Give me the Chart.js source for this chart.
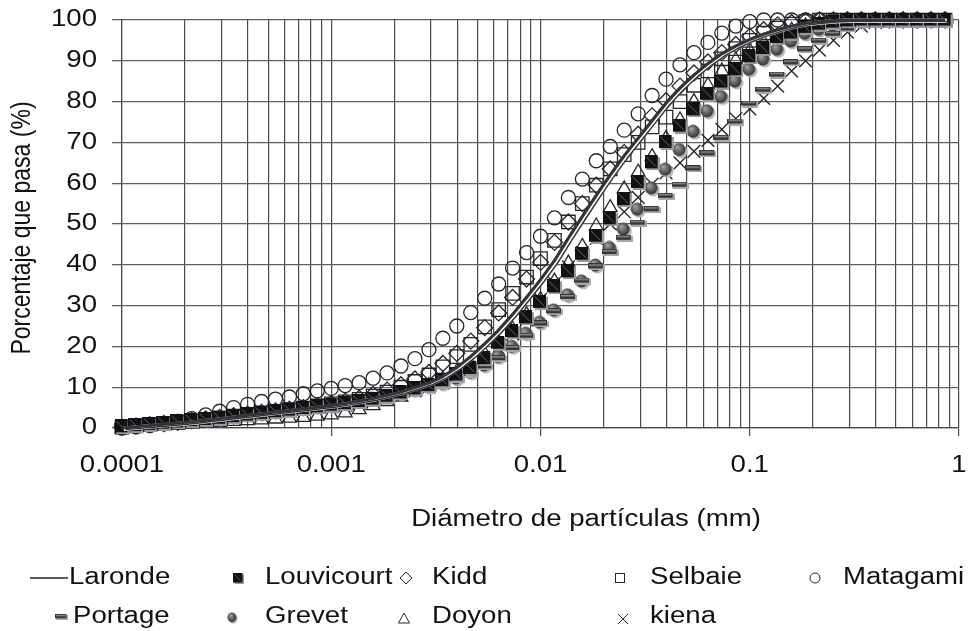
<!DOCTYPE html>
<html>
<head>
<meta charset="utf-8">
<script src="https://cdn.jsdelivr.net/npm/chart.js@4.4.0/dist/chart.umd.min.js"></script>
<style>
body { margin: 0; background: #fff; }
canvas { display: block; }
</style>
</head>
<body>
<canvas id="psdChart" width="970" height="631"></canvas>
<script>
// particle diameter (mm), same bins for every tailings sample
const sizes = [
  0.0001, 0.0001166, 0.0001359, 0.0001585, 0.0001848, 0.0002154, 0.0002512, 0.0002929, 0.0003415, 0.0003981, 0.0004642, 0.0005412, 0.000631, 0.0007356, 0.0008577,
  0.001, 0.001166, 0.001359, 0.001585, 0.001848, 0.002154, 0.002512, 0.002929, 0.003415, 0.003981, 0.004642, 0.005412, 0.00631, 0.007356, 0.008577,
  0.01, 0.01166, 0.01359, 0.01585, 0.01848, 0.02154, 0.02512, 0.02929, 0.03415, 0.03981, 0.04642, 0.05412, 0.0631, 0.07356, 0.08577,
  0.1, 0.1166, 0.1359, 0.1585, 0.1848, 0.2154, 0.2512, 0.2929, 0.3415, 0.3981, 0.4642, 0.5412, 0.631, 0.7356, 0.8577
];

// percent passing for each sample
const laronde = [
  0, 0.3, 0.6, 0.9, 1.2, 1.5, 1.9, 2.3, 2.7, 3.1, 3.5, 3.9, 4.3, 4.7, 5.1,
  5.5, 6.0, 6.6, 7.2, 8.0, 8.8, 9.9, 11.0, 12.6, 14.8, 17.5, 20.6, 24.0, 27.8, 32.0,
  36.3, 41.0, 46.5, 51.8, 57.0, 62.0, 66.7, 71.0, 75.3, 79.6, 83.3, 86.5, 89.3, 91.7, 93.6,
  95.2, 96.5, 97.6, 98.5, 99.2, 99.6, 99.9, 100, 100, 100, 100, 100, 100, 100, 100
];
const louvicourt = [
  0.3, 0.6, 0.9, 1.2, 1.5, 1.8, 2.1, 2.4, 2.8, 3.2, 3.6, 4.0, 4.4, 4.8, 5.2,
  5.6, 6.0, 6.5, 7.1, 7.8, 8.6, 9.6, 10.4, 11.6, 13.0, 14.6, 17.0, 20.8, 23.6, 27.0,
  30.8, 34.6, 38.3, 42.6, 47.0, 51.3, 56.0, 60.2, 65.0, 70.0, 74.0, 78.0, 81.8, 84.8, 87.8,
  91.0, 93.0, 95.7, 96.8, 98.2, 99.0, 99.5, 99.8, 100, 100, 100, 100, 100, 100, 100
];
const kidd = [
  0.2, 0.5, 0.8, 1.1, 1.4, 1.8, 2.2, 2.6, 3.0, 3.4, 3.8, 4.2, 4.6, 5.0, 5.5,
  6.0, 6.6, 7.3, 8.2, 9.3, 10.6, 12.0, 13.6, 15.8, 18.3, 21.3, 24.6, 28.2, 32.0, 36.5,
  40.6, 45.5, 50.5, 55.0, 59.5, 63.5, 67.5, 72.0, 76.5, 80.2, 83.8, 87.0, 89.7, 92.0, 94.0,
  96.0, 97.6, 98.8, 99.4, 99.8, 100, 100, 100, 100, 100, 100, 100, 100, 100, 100
];
const selbaie = [
  0.2, 0.5, 0.8, 1.1, 1.4, 1.7, 2.1, 2.5, 2.9, 3.3, 3.7, 4.1, 4.5, 4.9, 5.4,
  5.9, 6.4, 7.0, 7.8, 8.8, 10.0, 11.4, 13.0, 15.0, 17.5, 20.5, 24.8, 29.0, 33.0, 37.0,
  41.5, 46.0, 50.5, 55.0, 59.5, 63.5, 67.0, 70.0, 73.8, 76.2, 80.0, 84.0, 87.5, 90.5, 93.0,
  95.0, 96.8, 98.0, 99.0, 99.6, 100, 100, 100, 100, 100, 100, 100, 100, 100, 100
];
const matagami = [
  0, 0.3, 0.6, 1.0, 1.5, 2.3, 3.2, 4.1, 5.0, 5.8, 6.5, 7.1, 7.6, 8.4, 9.1,
  9.7, 10.4, 11.1, 12.2, 13.5, 15.2, 17.0, 19.2, 22.0, 25.0, 28.3, 31.8, 35.3, 39.2, 43.0,
  47.0, 51.5, 56.5, 61.0, 65.5, 69.0, 73.0, 77.0, 81.5, 85.5, 89.0, 92.0, 94.5, 96.8, 98.5,
  99.6, 100, 100, 100, 100, 100, 100, 100, 100, 100, 100, 100, 100, 100, 100
];
const portage = [
  0.3, 0.5, 0.8, 1.1, 1.4, 1.7, 2.0, 2.3, 2.6, 3.0, 3.4, 3.8, 4.2, 4.6, 5.0,
  5.3, 5.7, 6.2, 6.8, 7.5, 8.2, 9.0, 9.8, 10.5, 11.8, 13.2, 15.0, 17.0, 19.5, 22.5,
  25.5, 28.5, 32.0, 36.0, 39.5, 43.0, 46.5, 50.2, 53.5, 56.8, 59.5, 63.5, 67.2, 71.0, 75.0,
  79.4, 82.8, 86.5, 89.5, 92.7, 94.8, 96.5, 97.8, 98.8, 99.4, 99.8, 100, 100, 100, 100
];
const grevet = [
  0.3, 0.5, 0.8, 1.1, 1.4, 1.7, 2.0, 2.3, 2.7, 3.1, 3.5, 3.9, 4.3, 4.7, 5.1,
  5.5, 5.9, 6.4, 7.0, 7.7, 8.4, 9.2, 10.0, 10.8, 12.0, 13.5, 15.2, 17.3, 19.8, 23.0,
  25.7, 28.7, 32.4, 35.8, 39.7, 44.0, 48.5, 53.4, 58.6, 63.2, 68.0, 72.5, 77.5, 81.0, 84.8,
  87.7, 90.2, 92.6, 94.6, 96.5, 97.5, 98.5, 99.2, 99.6, 100, 100, 100, 100, 100, 100
];
const doyon = [
  0, 0.2, 0.4, 0.6, 0.8, 1.0, 1.2, 1.4, 1.6, 1.8, 2.0, 2.2, 2.4, 2.6, 2.9,
  3.2, 3.7, 4.5, 5.5, 6.5, 7.6, 8.9, 10.4, 12.0, 13.8, 15.8, 18.2, 21.0, 24.2, 27.8,
  31.5, 36.0, 40.4, 44.5, 49.5, 54.0, 58.6, 62.7, 66.5, 71.0, 75.5, 80.0, 84.0, 87.5, 90.2,
  92.5, 94.5, 96.2, 97.5, 98.5, 99.2, 99.6, 100, 100, 100, 100, 100, 100, 100, 100
];
const kiena = [
  0.2, 0.5, 0.8, 1.1, 1.4, 1.7, 2.0, 2.3, 2.6, 3.0, 3.4, 3.8, 4.2, 4.6, 5.0,
  5.2, 5.6, 6.1, 6.7, 7.4, 8.2, 9.1, 10.0, 11.0, 12.5, 14.2, 16.5, 19.5, 23.0, 26.5,
  31.5, 35.5, 39.5, 43.0, 46.5, 50.0, 53.0, 56.5, 59.8, 62.5, 65.0, 67.8, 70.5, 73.2, 75.8,
  78.2, 80.8, 83.8, 87.5, 90.0, 92.6, 95.0, 97.0, 98.5, 99.4, 99.8, 100, 100, 100, 100
];

const xTickValues = [0.0001, 0.001, 0.01, 0.1, 1];
const xTickLabels = ['0.0001', '0.001', '0.01', '0.1', '1'];
const yTickValues = [0, 10, 20, 30, 40, 50, 60, 70, 80, 90, 100];

const FONT = '23px "Liberation Sans", Arial, sans-serif';
const STRETCH = 1.2;   // the picture is a little wider than tall text
const ink = '#262626';
const lineInk = '#30353a';

function pairs(values) {
  return values.map((v, i) => ({ x: sizes[i], y: v }));
}

// filled markers, drawn once on small canvases
function squareMarker(size) {
  const c = document.createElement('canvas');
  c.width = size + 2; c.height = size + 2;
  const g = c.getContext('2d');
  g.fillStyle = '#9a9a9a';
  g.fillRect(2, 2, size, size);
  g.fillStyle = '#111';
  g.fillRect(0, 0, size, size);
  g.strokeStyle = '#666';
  g.lineWidth = 1;
  g.beginPath(); g.moveTo(1.5, 1.5); g.lineTo(size - 1.5, size - 1.5); g.stroke();
  return c;
}
function ballMarker(d) {
  const c = document.createElement('canvas');
  c.width = d + 2; c.height = d + 2;
  const g = c.getContext('2d');
  const r = d / 2;
  g.fillStyle = '#b5b5b5';
  g.beginPath(); g.arc(r + 2, r + 2, r - 0.5, 0, Math.PI * 2); g.fill();
  const grad = g.createRadialGradient(r * 0.7, r * 0.6, 0.5, r, r, r);
  grad.addColorStop(0, '#a0a0a0');
  grad.addColorStop(1, '#2c2c2c');
  g.fillStyle = grad;
  g.beginPath(); g.arc(r, r, r - 0.5, 0, Math.PI * 2); g.fill();
  return c;
}
function dashMarker(w, h) {
  const c = document.createElement('canvas');
  c.width = w + 2; c.height = h + 2;
  const g = c.getContext('2d');
  g.fillStyle = '#a8a8a8';
  g.fillRect(1, 1, w + 1, h + 1);
  g.fillStyle = '#363636';
  g.fillRect(0, 0, w, h);
  g.fillStyle = '#8c8c8c';
  g.fillRect(1, 1, w - 2, 1.5);
  return c;
}

const squareImg = squareMarker(13);
const ballImg = ballMarker(14);
const dashImg = dashMarker(15, 5);

function stretchText(ctx, str, x, y, align) {
  ctx.save();
  ctx.translate(x, y);
  ctx.scale(STRETCH, 1);
  ctx.textAlign = align;
  ctx.textBaseline = 'middle';
  ctx.fillText(str, 0, 0);
  ctx.restore();
}

// second, thinner stroke of the Laronde line (double line look)
const doubleLine = {
  id: 'doubleLine',
  afterDatasetsDraw(chart) {
    const pts = chart.getDatasetMeta(0).data;
    const ctx = chart.ctx;
    const path = () => {
      ctx.beginPath();
      pts.forEach((p, i) => i ? ctx.lineTo(p.x, p.y) : ctx.moveTo(p.x, p.y));
    };
    ctx.save();
    ctx.lineJoin = 'round';
    ctx.translate(1.8, 0.8);
    ctx.strokeStyle = '#fff'; ctx.lineWidth = 4.5; path(); ctx.stroke();
    ctx.translate(-1.8, -0.8);
    ctx.strokeStyle = lineInk; ctx.lineWidth = 3; path(); ctx.stroke();
    ctx.translate(3.6, 1.6);
    ctx.lineWidth = 1.5; path(); ctx.stroke();
    ctx.restore();
  }
};

// tick labels, axis titles and the two row legend
const texts = {
  id: 'texts',
  afterDraw(chart) {
    const ctx = chart.ctx;
    const xs = chart.scales.x, ys = chart.scales.y;
    ctx.save();
    ctx.font = FONT;
    ctx.fillStyle = '#111';
    yTickValues.forEach(v => stretchText(ctx, String(v), 97, ys.getPixelForValue(v), 'right'));
    xTickValues.forEach((v, i) => stretchText(ctx, xTickLabels[i], xs.getPixelForValue(v), 466, 'center'));
    stretchText(ctx, 'Diámetro de partículas (mm)', 586, 520, 'center');

    ctx.save();
    ctx.translate(22, 228);
    ctx.scale(STRETCH, 1);
    ctx.rotate(-Math.PI / 2);
    ctx.textAlign = 'center';
    ctx.textBaseline = 'middle';
    ctx.fillText('Porcentaje que pasa (%)', 0, 0);
    ctx.restore();

    // legend
    const r1 = 578, r2 = 617;
    ctx.strokeStyle = ink;
    ctx.lineWidth = 1.3;
    ctx.beginPath(); ctx.moveTo(30, r1); ctx.lineTo(68, r1); ctx.stroke();
    stretchText(ctx, 'Laronde', 69, r1, 'left');

    ctx.drawImage(squareImg, 233, r1 - 5, 11, 11);
    stretchText(ctx, 'Louvicourt', 265, r1, 'left');

    ctx.lineWidth = 1;
    ctx.beginPath();
    ctx.moveTo(400, r1); ctx.lineTo(406, r1 - 6); ctx.lineTo(412, r1); ctx.lineTo(406, r1 + 6); ctx.closePath();
    ctx.stroke();
    stretchText(ctx, 'Kidd', 432, r1, 'left');

    ctx.strokeRect(615.5, r1 - 4.5, 9, 9);
    stretchText(ctx, 'Selbaie', 650, r1, 'left');

    ctx.beginPath(); ctx.arc(815, r1, 5, 0, Math.PI * 2); ctx.stroke();
    stretchText(ctx, 'Matagami', 843, r1, 'left');

    ctx.drawImage(dashImg, 55, r2 - 3, 13, 6);
    stretchText(ctx, 'Portage', 73, r2, 'left');

    ctx.drawImage(ballImg, 227, r2 - 5, 11, 12);
    stretchText(ctx, 'Grevet', 265, r2, 'left');

    ctx.beginPath();
    ctx.moveTo(404, r2 - 4); ctx.lineTo(409.5, r2 + 6); ctx.lineTo(398.5, r2 + 6); ctx.closePath();
    ctx.stroke();
    stretchText(ctx, 'Doyon', 432, r2, 'left');

    ctx.beginPath();
    ctx.moveTo(618, r2 - 3); ctx.lineTo(628, r2 + 7);
    ctx.moveTo(628, r2 - 3); ctx.lineTo(618, r2 + 7);
    ctx.stroke();
    stretchText(ctx, 'kiena', 650, r2, 'left');
    ctx.restore();
  }
};

function openMarker(label, values, style, radius) {
  return {
    label: label,
    data: pairs(values),
    pointStyle: style,
    pointRadius: radius,
    borderColor: ink,
    backgroundColor: 'rgba(0,0,0,0)',
    borderWidth: 1.3,
    clip: false
  };
}
function imageMarker(label, values, img) {
  return { label: label, data: pairs(values), pointStyle: img, pointRadius: 6, clip: false };
}

const ctx = document.getElementById('psdChart').getContext('2d');
const chart = new Chart(ctx, {
  type: 'scatter',
  data: {
    datasets: [
      {
        label: 'Laronde',
        data: pairs(laronde),
        showLine: true,
        borderColor: lineInk,
        borderWidth: 3,
        pointRadius: 0,
        cubicInterpolationMode: 'monotone',
        clip: false
      },
      imageMarker('Louvicourt', louvicourt, squareImg),
      openMarker('Kidd', kidd, 'rectRot', 8),
      openMarker('Selbaie', selbaie, 'rect', 9.5),
      openMarker('Matagami', matagami, 'circle', 7),
      imageMarker('Portage', portage, dashImg),
      imageMarker('Grevet', grevet, ballImg),
      openMarker('Doyon', doyon, 'triangle', 8),
      Object.assign(openMarker('kiena', kiena, 'crossRot', 9), { borderWidth: 1.4 })
    ]
  },
  options: {
    responsive: false,
    animation: false,
    events: [],
    layout: { padding: { left: 0, right: 11, top: 20, bottom: 0 } },
    plugins: {
      legend: { display: false },
      tooltip: { enabled: false }
    },
    scales: {
      x: {
        type: 'logarithmic',
        min: 0.0001,
        max: 1,
        afterBuildTicks(scale) {
          const t = [];
          for (let e = -4; e < 0; e++) {
            for (let m = 1; m < 10; m++) t.push({ value: m * Math.pow(10, e), major: m === 1 });
          }
          t.push({ value: 1, major: true });
          scale.ticks = t;
        },
        afterFit(scale) { scale.height = 203; },
        ticks: { display: false, autoSkip: false },
        grid: {
          color: '#4a4a4a',
          lineWidth: 1.2,
          tickLength: 8,
          tickColor: c => (c.tick && c.tick.major) ? '#4a4a4a' : 'rgba(0,0,0,0)'
        },
        border: { color: '#4a4a4a', width: 1.2 }
      },
      y: {
        min: 0,
        max: 100,
        afterFit(scale) { scale.width = 122; },
        ticks: { display: false, stepSize: 10 },
        grid: { color: '#606060', lineWidth: 1.3, tickLength: 10, tickColor: '#606060' },
        border: { color: '#4a4a4a', width: 1.2 }
      }
    }
  },
  plugins: [doubleLine, texts]
});
</script>
</body>
</html>
